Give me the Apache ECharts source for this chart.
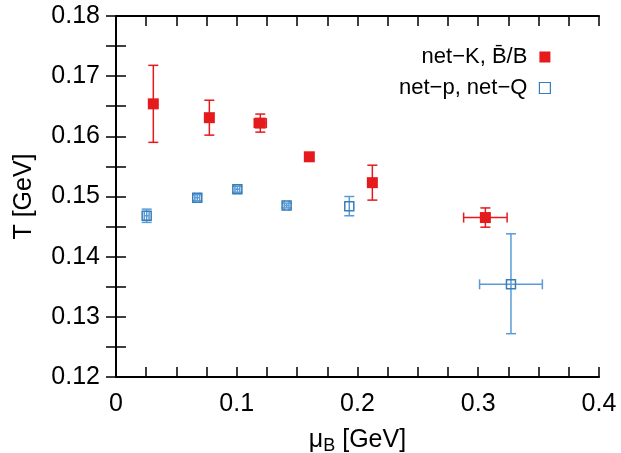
<!DOCTYPE html>
<html><head><meta charset="utf-8">
<script src="https://cdn.jsdelivr.net/npm/echarts@6/dist/echarts.min.js"></script>
<style>html,body{margin:0;padding:0;background:#fff}#c{width:621px;height:453px}</style>
</head><body><div id="c"></div>
<script>
// net-K, B̄/B
const redMu    = [0.0309, 0.0773, 0.1195, 0.1601, 0.2123, 0.3059];
const redT     = [0.1654, 0.1631, 0.1622, 0.1566, 0.1523, 0.1465];
const redTLo   = [0.1590, 0.1602, 0.1607, 0.1566, 0.1494, 0.1449];
const redTHi   = [0.1718, 0.1660, 0.1637, 0.1566, 0.1552, 0.1481];
const redMuErr = [0, 0, 0.005, 0, 0, 0.018];
// net-p, net-Q
const blueMu    = [0.0254, 0.0673, 0.1005, 0.1413, 0.1932, 0.3271];
const blueT     = [0.1468, 0.1498, 0.1512, 0.1485, 0.1484, 0.1354];
const blueTLo   = [0.1457, 0.1493, 0.1507, 0.1481, 0.1468, 0.1272];
const blueTHi   = [0.1479, 0.1503, 0.1517, 0.1489, 0.1500, 0.1438];
const blueMuErr = [0.002, 0.002, 0.002, 0.002, 0, 0.026];
const xTicks = [0, 0.1, 0.2, 0.3, 0.4];
const yTicks = [0.12, 0.13, 0.14, 0.15, 0.16, 0.17, 0.18];
const seriesNames = ['net\u2212K, B\u0304/B', 'net\u2212p, net\u2212Q'];

const RED = '#e41a1c', BLUE = '#377eb8';
const FONT = 'Liberation Sans';

function errData(mu, t, lo, hi, mx) {
  return mu.map((m, i) => [m, t[i], mx[i], lo[i], hi[i]]);
}
function errRender(color) {
  return function (params, api) {
    const x = api.value(0), y = api.value(1), xe = api.value(2), lo = api.value(3), hi = api.value(4);
    const c = api.coord([x, y]);
    const pLo = api.coord([x, lo]), pHi = api.coord([x, hi]);
    const children = [];
    const st = { stroke: color, lineWidth: 1.5 };
    const cap = 5;
    if (Math.abs(pLo[1] - pHi[1]) > 1) {
      children.push({ type: 'line', shape: { x1: c[0], y1: pLo[1], x2: c[0], y2: pHi[1] }, style: st });
      children.push({ type: 'line', shape: { x1: c[0] - cap, y1: pLo[1], x2: c[0] + cap, y2: pLo[1] }, style: st });
      children.push({ type: 'line', shape: { x1: c[0] - cap, y1: pHi[1], x2: c[0] + cap, y2: pHi[1] }, style: st });
    }
    if (xe > 0) {
      const pL = api.coord([x - xe, y]), pR = api.coord([x + xe, y]);
      children.push({ type: 'line', shape: { x1: pL[0], y1: c[1], x2: pR[0], y2: c[1] }, style: st });
      children.push({ type: 'line', shape: { x1: pL[0], y1: c[1] - cap, x2: pL[0], y2: c[1] + cap }, style: st });
      children.push({ type: 'line', shape: { x1: pR[0], y1: c[1] - cap, x2: pR[0], y2: c[1] + cap }, style: st });
    }
    return { type: 'group', children };
  };
}

const axisCommon = {
  axisLine: { lineStyle: { color: '#000', width: 2 } },
  axisTick: { inside: true, length: 10, lineStyle: { color: '#000', width: 1.5 } },
  minorTick: { show: true, length: 10, lineStyle: { color: '#000', width: 1.5 } },
  splitLine: { show: false }
};

const chart = echarts.init(document.getElementById('c'));
chart.setOption({
  animation: false,
  textStyle: { fontFamily: FONT },
  grid: { left: 116, right: 22, top: 16, bottom: 76, containLabel: false, outerBoundsMode: 'none' },
  legend: {
    orient: 'vertical', right: 70, top: 46, align: 'right', itemGap: 9, padding: 0,
    itemWidth: 11, itemHeight: 11,
    textStyle: { fontFamily: FONT, fontSize: 22, color: '#000', padding: [0, 7, 0, 0] },
    data: [
      { name: seriesNames[0], icon: 'rect' },
      { name: seriesNames[1], icon: 'rect', itemStyle: { color: '#fff', borderColor: BLUE, borderWidth: 1.2 } }
    ]
  },
  xAxis: [
    Object.assign({}, axisCommon, {
      type: 'value', min: 0, max: 0.4, interval: 0.1, minorTick: Object.assign({}, axisCommon.minorTick, { splitNumber: 4 }),
      axisLabel: { fontSize: 25, color: '#000', margin: 15, formatter: v => String(+v.toFixed(2)) },
      name: '{m|\u03bc}{s|B}{m| [GeV]}', nameLocation: 'middle', nameGap: 48,
      nameTextStyle: { rich: { m: { fontSize: 25, color: '#000', fontFamily: FONT }, s: { fontSize: 18, color: '#000', fontFamily: FONT, verticalAlign: 'bottom', padding: [12, 0, 0, 0] } } }
    }),
    Object.assign({}, axisCommon, {
      type: 'value', position: 'top', min: 0, max: 0.4, interval: 0.1, minorTick: Object.assign({}, axisCommon.minorTick, { splitNumber: 4 }),
      axisLabel: { show: false }
    })
  ],
  yAxis: [
    Object.assign({}, axisCommon, {
      type: 'value', min: 0.12, max: 0.18, interval: 0.01, minorTick: Object.assign({}, axisCommon.minorTick, { splitNumber: 2 }),
      axisLabel: { fontSize: 25, color: '#000', margin: 16, formatter: v => v.toFixed(2) },
      name: 'T [GeV]', nameLocation: 'middle', nameGap: 79, nameRotate: 90,
      nameTextStyle: { fontSize: 25, color: '#000', fontFamily: FONT }
    }),
    Object.assign({}, axisCommon, {
      type: 'value', position: 'right', min: 0.12, max: 0.18, interval: 0.01, minorTick: Object.assign({}, axisCommon.minorTick, { splitNumber: 2 }),
      axisLabel: { show: false }
    })
  ],
  series: [
    { type: 'custom', name: 'redErr', renderItem: errRender(RED), data: errData(redMu, redT, redTLo, redTHi, redMuErr), z: 2, silent: true },
    { type: 'custom', name: 'blueErr', renderItem: errRender('#5b9bd5'), data: errData(blueMu, blueT, blueTLo, blueTHi, blueMuErr), z: 2, silent: true },
    { type: 'scatter', name: seriesNames[0], symbol: 'rect', symbolSize: 11, itemStyle: { color: RED, opacity: 1 },
      data: redMu.map((m, i) => [m, redT[i]]), z: 5 },
    { type: 'scatter', name: seriesNames[1], symbol: 'rect', symbolSize: 9,
      itemStyle: { color: 'rgba(255,255,255,0)', borderColor: BLUE, borderWidth: 1.5, opacity: 1 },
      data: blueMu.map((m, i) => [m, blueT[i]]), z: 5 }
  ]
});
</script></body></html>
